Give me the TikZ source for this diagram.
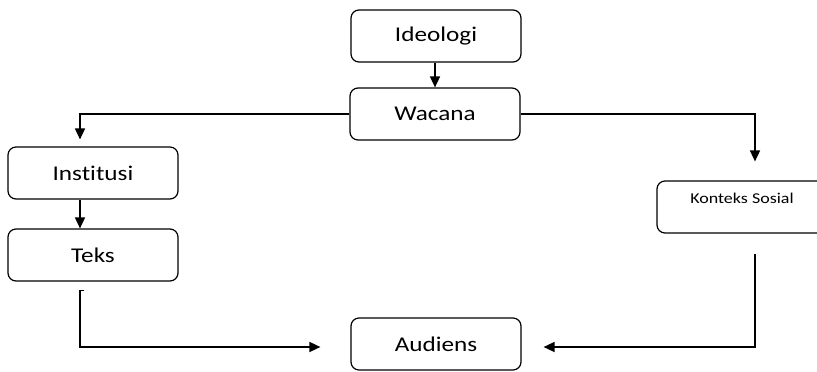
\documentclass[tikz,border=0pt]{standalone}
\usepackage{fontspec}
\setmainfont{Carlito}[Ligatures=NoCommon,FakeStretch=1.2]
\usetikzlibrary{arrows.meta}
\begin{document}
\begin{tikzpicture}[x=1pt,y=-1pt,>={Triangle[length=11pt,width=10pt]}]
    % styles
    \tikzset{box/.style={draw,rounded corners=8pt,line width=1.2pt,minimum width=170pt,minimum height=52pt,inner sep=0pt,font=\fontsize{21}{25}\selectfont},
             link/.style={line width=1.6pt}}
    \useasboundingbox (0,0) rectangle (817,372);
    % nodes
    \node[box] (ideologi)  at (436,36)  {Ideologi};
    \node[box] (wacana)    at (435,114) {Wacana};
    \node[box] (institusi) at (93,173)  {Institusi};
    \node[box] (teks)      at (93,255)  {Teks};
    \node[box,font=\fontsize{15}{18}\selectfont,text depth=18pt] (konteks) at (742,207) {Konteks Sosial};
    \node[box] (audiens)   at (436,344) {Audiens};

    % helper coordinates for the vertical runs
    \coordinate (lx) at (80,0);
    \coordinate (rx) at (755,0);
    \coordinate (by) at (0,347);

    % edges
    \draw[link,->] (ideologi.south -| wacana.north) -- (wacana.north);
    \draw[link,->,shorten >=7pt] (wacana.west) -| (lx |- institusi.north);
    \draw[link,->] (lx |- institusi.south) -- (lx |- teks.north);
    \draw[link,->,shorten >=19pt] (wacana.east) -| (rx |- konteks.north);

    % to audiens
    \draw[link,->,shorten >=30pt] ([xshift=4pt,yshift=-9pt]lx |- teks.south) -- ([yshift=-9pt]lx |- teks.south) |- (audiens.west |- by);
    \draw[link,->,shorten >=22pt] ([yshift=-20pt]rx |- konteks.south) |- (audiens.east |- by);
\end{tikzpicture}
\end{document}
